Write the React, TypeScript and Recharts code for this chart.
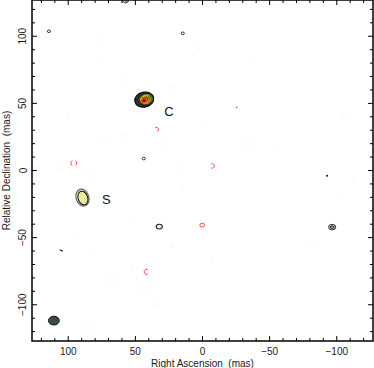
import React from "react";
import { ScatterChart, Scatter, XAxis, YAxis, ReferenceArea } from "recharts";

// chart frame (px) — plot square is 341 x 341
const W = 374;
const H = 368;
const PLOT_L = 32;
const PLOT_R = 373;
const PLOT_T = 0;
const PLOT_B = 341;
const LIM = 127; // mas, both axes

const FONT = "'Liberation Sans', Arial, sans-serif";
const INK = "#1a1a1a";

// axis ticks, every 10 mas (labels on the multiples of 50)
const tickValues = [-120, -110, -100, -90, -80, -70, -60, -50, -40, -30, -20, -10, 0, 10, 20, 30, 40, 50, 60, 70, 80, 90, 100, 110, 120];

// component cores (RA offset, Dec offset in mas)
const coreC = [{ x: 43.4, y: 52.8 }];
const coreS = [{ x: 89.4, y: -20.2 }];
const componentLabels = [
  { text: "C", x: 25.0, y: 44.2 },
  { text: "S", x: 71.7, y: -21.7 },
];
const beam = [{ x: 110.7, y: -111.8 }];

// weak positive contours
const blackContours = [
  { kind: "ring", x: 114.4, y: 103.7 },
  { kind: "ring", x: 14.7, y: 102.2 },
  { kind: "ring", x: 43.7, y: 8.9 },
  { kind: "dee", x: 32.2, y: -41.8 },
  { kind: "double", x: -96.6, y: -42.2 },
  { kind: "dot", x: -92.8, y: -4.0 },
  { kind: "dash", x: 105.2, y: -59.6 },
  { kind: "big", x: 57.3, y: 127.6 },
];

// negative contours
const redContours = [
  { kind: "hook", x: 33.3, y: 30.6 },
  { kind: "pair", x: 95.8, y: 5.4 },
  { kind: "arcR", x: -7.7, y: 3.4 },
  { kind: "ring", x: 0.2, y: -40.7 },
  { kind: "arcL", x: 42.2, y: -75.5 },
  { kind: "dot", x: -25.5, y: 47.0 },
];

// very faint lowest-level blotches
const faintSpots = [
  { x: 120.6, y: 103.4 }, { x: 75.9, y: 97.2 }, { x: 76.7, y: 81.6 }, { x: 59.8, y: 66.7 },
  { x: 23.8, y: 62.2 }, { x: 3.0, y: 90.5 }, { x: -36.3, y: 81.1 }, { x: 100.7, y: 40.1 },
  { x: -105.0, y: 39.9 }, { x: -2.2, y: 33.2 }, { x: 123.0, y: 3.4 }, { x: 104.5, y: 1.2 },
  { x: 84.9, y: -3.3 }, { x: 73.7, y: 21.5 }, { x: 59.0, y: 26.0 }, { x: 29.0, y: 19.1 },
  { x: 17.9, y: 1.9 }, { x: 15.1, y: -12.0 }, { x: -33.3, y: 19.8 }, { x: -55.6, y: 16.6 },
  { x: -112.4, y: -8.3 }, { x: -101.5, y: -18.9 }, { x: 51.4, y: -36.0 }, { x: -81.7, y: -52.9 },
  { x: 22.6, y: -56.7 }, { x: 93.3, y: -48.0 }, { x: 124.3, y: -62.8 }, { x: 83.4, y: -61.4 },
  { x: 67.2, y: -81.5 }, { x: 43.7, y: -87.6 }, { x: -7.2, y: -67.8 }, { x: 84.7, y: -117.2 },
  { x: 52.3, y: -74.0 }, { x: 33.7, y: -100.0 },
];

const fmt = (v: number) => (v < 0 ? "\u2212" + -v : String(v));

function XTick(props: any) {
  const { x, payload } = props;
  const v = payload.value as number;
  const major = v % 50 === 0;
  const len = major ? 5 : 3;
  return (
    <g>
      <line x1={x} x2={x} y1={PLOT_B} y2={PLOT_B - len} stroke="#000" />
      <line x1={x} x2={x} y1={PLOT_T} y2={PLOT_T + len} stroke="#000" />
      {major && (
        <text x={x} y={PLOT_B + 14} textAnchor="middle" fontFamily={FONT} fontSize={10} fill={INK}>
          {fmt(v)}
        </text>
      )}
    </g>
  );
}

function YTick(props: any) {
  const { y, payload } = props;
  const v = payload.value as number;
  const major = v % 50 === 0;
  const len = major ? 5 : 3;
  return (
    <g>
      <line x1={PLOT_L} x2={PLOT_L + len} y1={y} y2={y} stroke="#000" />
      <line x1={PLOT_R} x2={PLOT_R - len} y1={y} y2={y} stroke="#000" />
      {major && (
        <text
          x={26.5}
          y={y}
          textAnchor="middle"
          transform={`rotate(-90, 26.5, ${y})`}
          fontFamily={FONT}
          fontSize={10}
          fill={INK}
        >
          {fmt(v)}
        </text>
      )}
    </g>
  );
}

const XTitle = () => (
  <text
    x={(PLOT_L + PLOT_R) / 2}
    y={H - 1.5}
    textAnchor="middle"
    fontFamily={FONT}
    fontSize={10}
    fill={INK}
    style={{ whiteSpace: "pre" }}
  >
    {"Right Ascension  (mas)"}
  </text>
);

const YTitle = () => {
  const cy = (PLOT_T + PLOT_B) / 2;
  return (
    <text
      x={10}
      y={cy}
      textAnchor="middle"
      transform={`rotate(-90, 10, ${cy})`}
      fontFamily={FONT}
      fontSize={10}
      fill={INK}
      style={{ whiteSpace: "pre" }}
    >
      {"Relative Declination  (mas)"}
    </text>
  );
};

const CoreCShape = (p: any) => {
  const { cx, cy } = p;
  return (
    <g transform={`translate(${cx}, ${cy}) rotate(-12)`}>
      <ellipse rx={9.6} ry={7.6} fill="#2b312c" stroke="#000" strokeWidth={1} />
      <ellipse cx={1} rx={7.6} ry={5.8} fill="#3a4232" stroke="#151515" strokeWidth={0.6} />
      <ellipse cx={2.2} rx={6} ry={4.6} fill="none" stroke="#7f8f2c" strokeWidth={0.8} />
      <ellipse cx={1.6} rx={5} ry={3.9} fill="none" stroke="#d2d21e" strokeWidth={0.8} />
      <ellipse cx={0.8} rx={4} ry={3.3} fill="#5c4a12" stroke="#e6d01e" strokeWidth={0.8} />
      <ellipse cx={-0.2} cy={0.8} rx={3.1} ry={2.7} fill="#c23410" stroke="#f07020" strokeWidth={0.8} />
      <ellipse cx={-0.5} cy={0.9} rx={1.9} ry={1.7} fill="#9a0000" stroke="#ff3020" strokeWidth={0.7} />
    </g>
  );
};

const CoreSShape = (p: any) => {
  const { cx, cy } = p;
  return (
    <g transform={`translate(${cx}, ${cy}) rotate(-18)`}>
      <ellipse rx={6.4} ry={8.6} fill="#f5f1c0" stroke="#666" strokeWidth={1.2} />
      <ellipse cx={0.3} cy={0.5} rx={4.8} ry={7} fill="#efeaa2" stroke="#111" strokeWidth={1} />
    </g>
  );
};

const BeamShape = (p: any) => (
  <ellipse cx={p.cx} cy={p.cy} rx={5.4} ry={4.4} fill="#3c4a47" stroke="#111" strokeWidth={1} />
);

const LabelShape = (p: any) => {
  const d = p.payload ?? p;
  return (
    <text x={p.cx} y={p.cy + 4.6} textAnchor="middle" fontFamily={FONT} fontSize={13} fill="#111">
      {d.text}
    </text>
  );
};

const BlackShape = (p: any) => {
  const { cx, cy } = p;
  const kind = (p.payload ?? p).kind;
  const s = { fill: "none", stroke: "#222", strokeWidth: 0.9 };
  if (kind === "ring") return <ellipse cx={cx} cy={cy} rx={1.6} ry={1.3} {...s} />;
  if (kind === "dee")
    return <ellipse cx={cx} cy={cy} rx={3.1} ry={2.4} {...s} strokeWidth={1.1} fill="#f4f2d8" />;
  if (kind === "double")
    return (
      <g>
        <ellipse cx={cx} cy={cy} rx={3.6} ry={2.8} fill="#d8d8c0" stroke="#222" strokeWidth={0.9} />
        <ellipse cx={cx} cy={cy} rx={2} ry={1.4} fill="#888" stroke="#222" strokeWidth={0.8} />
      </g>
    );
  if (kind === "dot") return <circle cx={cx} cy={cy} r={1} fill="#111" />;
  if (kind === "dash")
    return <line x1={cx - 1.5} y1={cy - 0.8} x2={cx + 1.5} y2={cy + 0.8} stroke="#111" strokeWidth={1.2} />;
  if (kind === "big")
    return (
      <g>
        <ellipse cx={cx} cy={cy} rx={3.2} ry={3.8} {...s} />
        <ellipse cx={cx + 0.5} cy={cy} rx={1.8} ry={2.2} {...s} />
      </g>
    );
  return null;
};

const RedShape = (p: any) => {
  const { cx, cy } = p;
  const kind = (p.payload ?? p).kind;
  const s = { fill: "none", stroke: "#ff3838", strokeWidth: 0.9 };
  if (kind === "ring") return <ellipse cx={cx} cy={cy} rx={2.4} ry={1.9} {...s} />;
  if (kind === "dot") return <circle cx={cx} cy={cy} r={0.8} fill="#ff3838" />;
  if (kind === "arcL")
    return <path d={`M ${cx + 2} ${cy - 2.2} A 2.4 2.6 0 1 0 ${cx + 2} ${cy + 2.2}`} {...s} />;
  if (kind === "arcR")
    return <path d={`M ${cx - 1.5} ${cy - 2} A 2 2.3 0 1 1 ${cx - 1.5} ${cy + 2}`} {...s} />;
  if (kind === "hook")
    return <path d={`M ${cx - 2.5} ${cy - 2} A 2.4 2 0 1 1 ${cx - 1} ${cy + 2}`} {...s} />;
  if (kind === "pair")
    return (
      <g>
        <path d={`M ${cx - 1.5} ${cy - 2.5} A 2 2.6 0 0 0 ${cx - 1.5} ${cy + 2.5}`} {...s} />
        <path d={`M ${cx + 1.5} ${cy - 2.5} A 2 2.6 0 0 1 ${cx + 1.5} ${cy + 2.5}`} {...s} />
      </g>
    );
  return null;
};

const FaintShape = (p: any) => <circle cx={p.cx} cy={p.cy} r={2} fill="#fdfde9" />;

export default function App() {
  return (
    <div style={{ position: "absolute", left: 0, top: 0, width: W, height: H, background: "#fff" }}>
      <ScatterChart width={W} height={H} margin={{ top: PLOT_T, right: W - PLOT_R, bottom: 0, left: 0 }}>
        <XAxis
          type="number"
          dataKey="x"
          domain={[-LIM, LIM]}
          reversed
          allowDataOverflow
          ticks={tickValues}
          interval={0}
          height={H - PLOT_B}
          axisLine={false}
          tickLine={false}
          tickSize={0}
          tickMargin={0}
          tick={<XTick />}
          label={{ content: XTitle }}
        />
        <YAxis
          type="number"
          dataKey="y"
          domain={[-LIM, LIM]}
          allowDataOverflow
          ticks={tickValues}
          interval={0}
          width={PLOT_L}
          axisLine={false}
          tickLine={false}
          tickSize={0}
          tickMargin={0}
          tick={<YTick />}
          label={{ content: YTitle }}
        />
        <Scatter data={faintSpots} shape={FaintShape} isAnimationActive={false} />
        <Scatter data={redContours} shape={RedShape} isAnimationActive={false} />
        <Scatter data={blackContours} shape={BlackShape} isAnimationActive={false} />
        <Scatter data={coreS} shape={CoreSShape} isAnimationActive={false} />
        <Scatter data={coreC} shape={CoreCShape} isAnimationActive={false} />
        <Scatter data={beam} shape={BeamShape} isAnimationActive={false} />
        <Scatter data={componentLabels} shape={LabelShape} isAnimationActive={false} />
        <ReferenceArea x1={-LIM} x2={LIM} y1={-LIM} y2={LIM} fill="none" stroke="#000" strokeWidth={1.5} />
      </ScatterChart>
    </div>
  );
}
